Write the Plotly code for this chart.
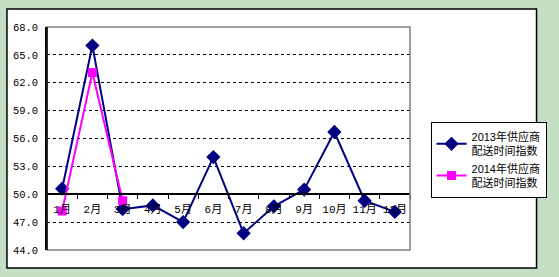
import plotly.graph_objects as go

months = ["1月", "2月", "3月", "4月", "5月", "6月", "7月", "8月", "9月", "10月", "11月", "12月"]
s2013 = [50.6, 66.0, 48.4, 48.8, 47.0, 54.0, 45.8, 48.7, 50.5, 56.7, 49.3, 48.1]
months2014 = ["1月", "2月", "3月"]
s2014 = [48.2, 63.1, 49.3]
name2013 = "2013年供应商<br>配送时间指数"
name2014 = "2014年供应商<br>配送时间指数"
y_ticks = [44, 47, 50, 53, 56, 59, 62, 65, 68]

W, H = 559, 277
L, R, T, B = 46.5, 418, 27, 250
pw, ph = R - L, B - T

def px(x):
    return (x - L) / pw

def py(y):
    return (B - y) / ph

fig = go.Figure()
fig.add_trace(go.Scatter(
    x=months, y=s2013, name=name2013, mode="lines+markers",
    line=dict(color="#000080", width=2),
    marker=dict(symbol="diamond", size=11, color="#000080"),
))
fig.add_trace(go.Scatter(
    x=months2014, y=s2014, name=name2014, mode="lines+markers",
    line=dict(color="#FF00FF", width=2),
    marker=dict(symbol="square", size=9, color="#FF00FF"),
))

base = (50 - 44) / (68 - 44)

fig.update_layout(
    width=W, height=H,
    margin=dict(l=L, r=W - R, t=T, b=H - B, pad=0),
    paper_bgcolor="#C5DFC5",
    plot_bgcolor="#C0C0C0",
    showlegend=True,
    legend=dict(
        x=px(439), y=py(122), xanchor="left", yanchor="top",
        bgcolor="white", bordercolor="black", borderwidth=1,
        font=dict(family="Liberation Sans, Noto Sans CJK SC", size=11, color="black"),
        tracegroupgap=0, itemwidth=30,
    ),
    xaxis=dict(
        type="category", categoryorder="array", categoryarray=months,
        range=[-0.5, 11.5], anchor="free", position=base,
        showline=True, linecolor="black", linewidth=1.5,
        ticks="outside", tickson="boundaries", ticklen=4, tickcolor="black",
        showgrid=False, tickangle=0, ticklabelstandoff=5,
        tickfont=dict(family="Liberation Mono, Noto Sans CJK SC", size=11, color="black"),
    ),
    yaxis=dict(
        range=[44, 68], tickvals=y_ticks, tickformat=".1f",
        showline=True, linecolor="black", linewidth=1.5,
        showgrid=True, gridcolor="black", griddash="3px,3px", gridwidth=1,
        zeroline=False, ticks="outside", ticklen=5, tickcolor="rgba(0,0,0,0)",
        tickfont=dict(family="Liberation Mono", size=10.5, color="black"),
    ),
    shapes=[
        dict(type="rect", xref="paper", yref="paper",
             x0=px(5.5), x1=px(547.5), y0=py(268), y1=py(9),
             fillcolor="white", line=dict(color="black", width=1.5), layer="below"),
        dict(type="rect", xref="paper", yref="paper",
             x0=0, x1=1, y0=0, y1=1,
             fillcolor="rgba(0,0,0,0)", line=dict(color="#808080", width=1.5), layer="above"),
        dict(type="line", xref="paper", yref="paper",
             x0=0, x1=0, y0=0, y1=1,
             line=dict(color="black", width=1.5), layer="above"),
    ],
)

fig.write_html("out.html")
